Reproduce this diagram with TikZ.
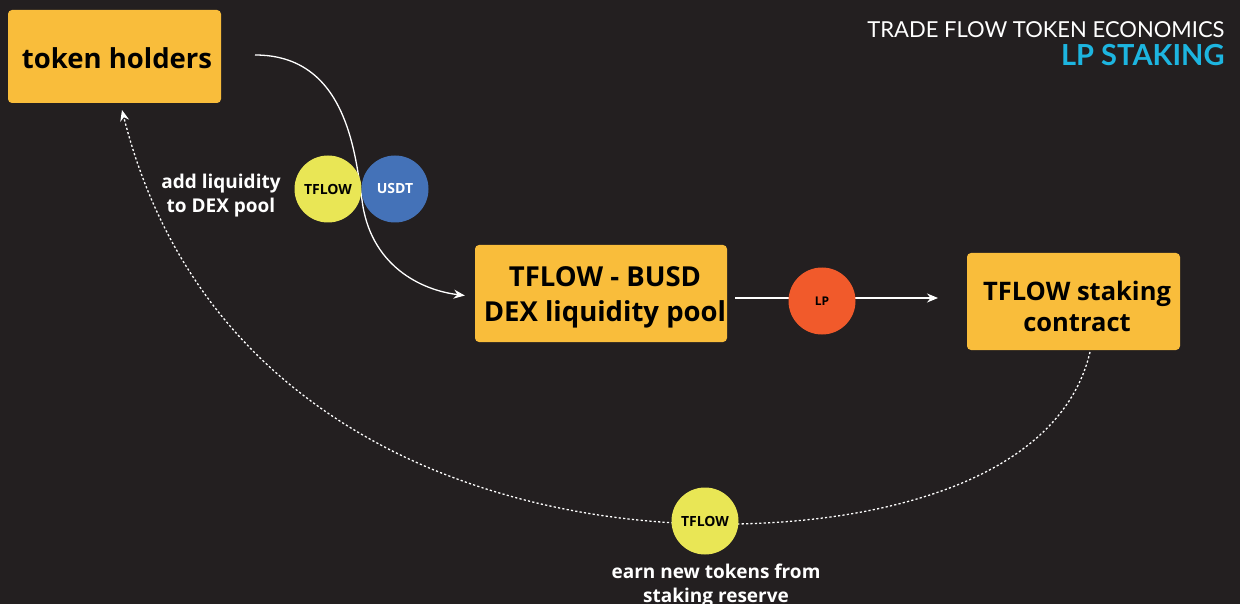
\documentclass[tikz,border=0pt]{standalone}
\usepackage{fontspec}
\setmainfont{Open Sans}
\newfontfamily\titlefont{Lato}
\usetikzlibrary{arrows.meta}
\definecolor{bgc}{HTML}{231F20}
\definecolor{boxc}{HTML}{F9BD3B}
\definecolor{tokc}{HTML}{E9E655}
\definecolor{usdc}{HTML}{4472B8}
\definecolor{lpc}{HTML}{F15A2B}
\definecolor{cyanc}{HTML}{1DB5E0}
\tikzset{
  box/.style={fill=boxc, rounded corners=4pt, inner sep=0pt},
  boxtext/.style={align=center, text=black, inner sep=0pt},
  coin/.style={circle, minimum size=67pt, inner sep=0pt, font=\bfseries\fontsize{14}{16}\selectfont},
  lbl/.style={text=white, align=center, font=\bfseries\fontsize{19}{24}\selectfont},
  arr/.style={draw=white, line width=1.3pt, -{Stealth[length=11pt,width=9pt]}},
  dotarr/.style={draw=white, line width=1.3pt, dash pattern=on 2.2pt off 2.2pt, -{Stealth[length=11pt,width=9pt]}}
}
\begin{document}
\begin{tikzpicture}[x=1pt,y=-1pt]
\fill[bgc] (0,0) rectangle (1240,604);
\useasboundingbox (0,0) rectangle (1240,604);

% title
\node[anchor=east, text=white, font=\titlefont\fontsize{22}{24}\selectfont] (t1) at (1228,30) {TRADE FLOW TOKEN ECONOMICS};
\node[anchor=east, text=cyanc, font=\titlefont\bfseries\fontsize{29}{31}\selectfont] (t2) at (1228,55) {LP STAKING};

% boxes
\node[box, minimum width=213pt, minimum height=93pt] (holders) at (114.5,56.5) {};
\node[boxtext, font=\bfseries\fontsize{27.5}{32}\selectfont] (holderst) at (117,58) {token holders};
\node[box, minimum width=252pt, minimum height=97pt] (pool) at (601,293.5) {};
\node[boxtext, font=\bfseries\fontsize{27.5}{35}\selectfont] (poolt) at (605,297) {TFLOW - BUSD\\DEX liquidity pool};
\node[box, minimum width=213pt, minimum height=97pt] (stake) at (1073.5,301.5) {};
\node[boxtext, font=\bfseries\fontsize{25.5}{31}\selectfont] (staket) at (1077,306) {TFLOW staking\\contract};

% connectors
\coordinate (c1) at (255,55);
\coordinate (c2) at (362,200);
\draw[arr] (c1) .. controls (345,55) and (355,150) .. (c2) .. controls (370,265) and (420,290) .. ([xshift=-10pt,yshift=-2pt]pool.west);

\coordinate (lpa) at (735,298);
\coordinate (lpb) at (938,298);
\draw[arr] (lpa) -- (lpb);

\coordinate (d1) at (1090,352);
\coordinate (dm) at (705,524);
\coordinate (d2) at (122,110);
\draw[dotarr] (d1) .. controls (1060,480) and (880,527) .. (dm) .. controls (480,520) and (200,420) .. (d2);

% coins
\node[coin, fill=tokc, text=black] (tflow1) at (328,189) {TFLOW};
\node[coin, fill=usdc, text=white] (usdt) at (395,189) {USDT};
\node[coin, fill=lpc, text=black, font=\bfseries\fontsize{12}{14}\selectfont] (lp) at (822,301) {LP};
\node[coin, fill=tokc, text=black] (tflow2) at (705,521) {TFLOW};

% labels
\node[lbl] (addl) at (221,196) {add liquidity\\to DEX pool};
\node[lbl, anchor=north] (earn) at (716,560) {earn new tokens from\\staking reserve};
\end{tikzpicture}
\end{document}
